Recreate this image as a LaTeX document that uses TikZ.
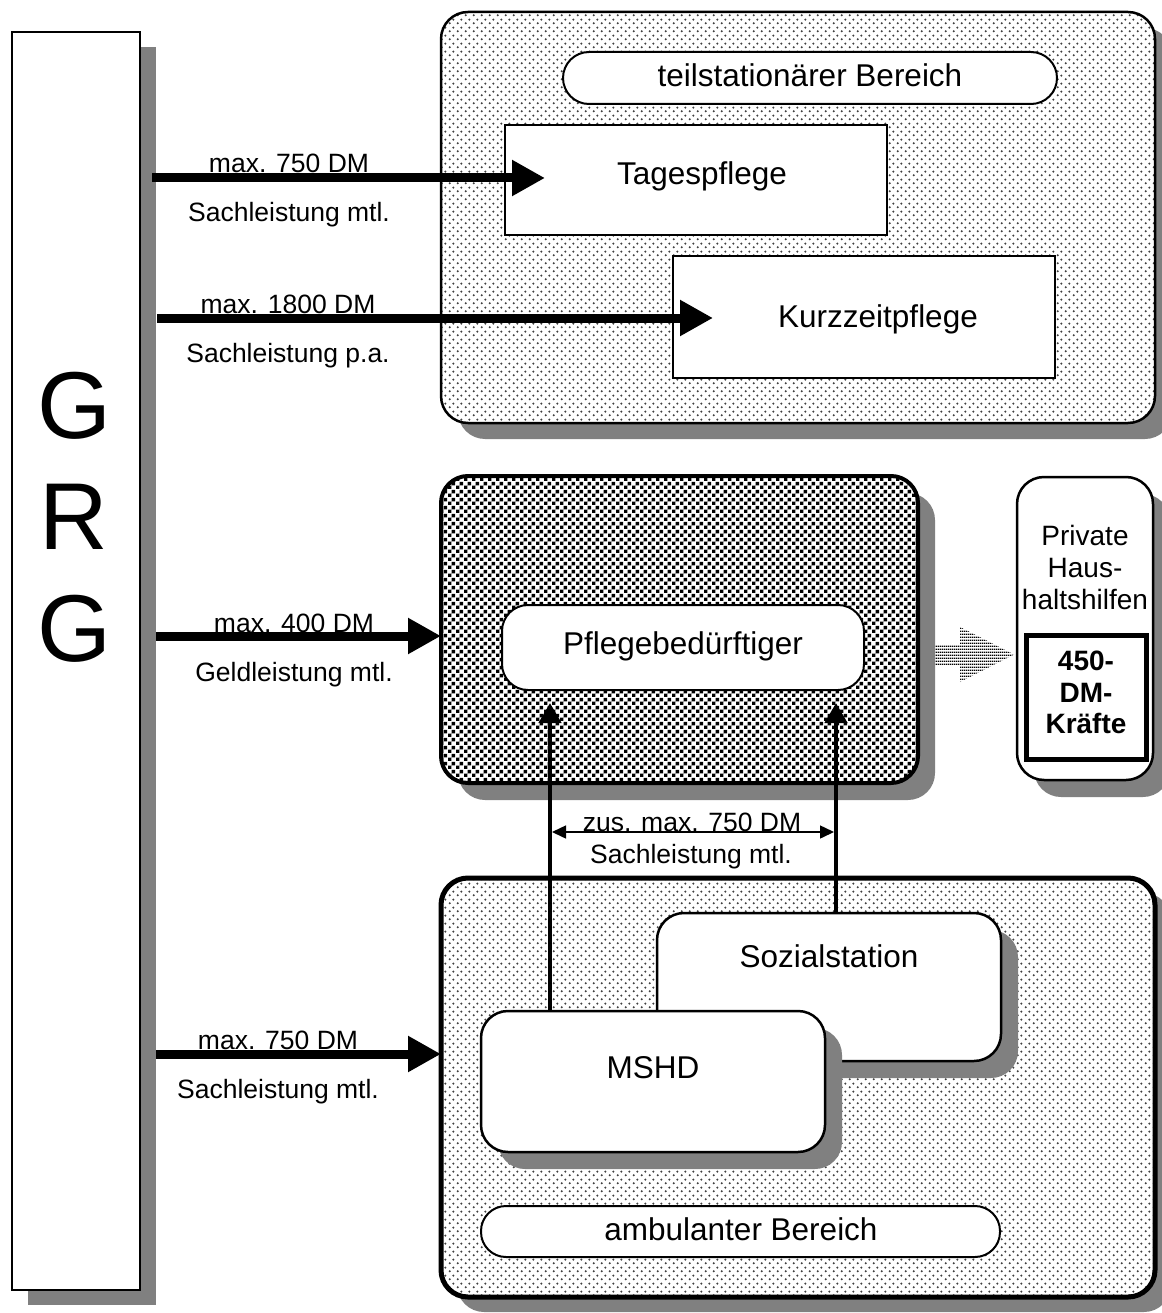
\documentclass[tikz,border=0pt]{standalone}
\usepackage{fontspec}
\setmainfont{Liberation Sans}
\usetikzlibrary{arrows.meta,shadows,patterns,calc}

\definecolor{shadowgray}{gray}{0.5}
\pgfdeclarelayer{shadowlayer}
\pgfsetlayers{shadowlayer,main}

% staggered fine dot screen
\pgfdeclarepatternformonly{finedots}{\pgfpointorigin}{\pgfqpoint{8pt}{8pt}}{\pgfqpoint{8pt}{8pt}}{%
  \pgfpathcircle{\pgfqpoint{2pt}{2pt}}{1.3pt}%
  \pgfpathcircle{\pgfqpoint{6pt}{6pt}}{1.3pt}%
  \pgfusepath{fill}}
% dense square screen
\pgfdeclarepatternformonly{coarsedots}{\pgfpointorigin}{\pgfqpoint{8pt}{8pt}}{\pgfqpoint{8pt}{8pt}}{%
  \pgfpathrectangle{\pgfqpoint{0.1pt}{0.1pt}}{\pgfqpoint{3.8pt}{3.8pt}}%
  \pgfpathrectangle{\pgfqpoint{4.1pt}{4.1pt}}{\pgfqpoint{3.8pt}{3.8pt}}%
  \pgfusepath{fill}}
% horizontal stripes
\pgfdeclarepatternformonly{hstripes}{\pgfpointorigin}{\pgfqpoint{2pt}{3.2pt}}{\pgfqpoint{2pt}{3.2pt}}{%
  \pgfpathrectangle{\pgfpointorigin}{\pgfqpoint{2pt}{1.8pt}}%
  \pgfusepath{fill}}

\tikzset{
  bigfont/.style={font=\fontsize{31.5pt}{36pt}\selectfont},
  labfont/.style={font=\fontsize{26.5pt}{32pt}\selectfont},
  txt/.style={anchor=base, inner sep=0pt},
  shade17/.style={drop shadow={shadow xshift=17pt, shadow yshift=-17pt, fill=shadowgray, opacity=1}},
  shade15/.style={drop shadow={shadow xshift=16pt, shadow yshift=-15pt, fill=shadowgray, opacity=1}},
  box/.style={draw=black, fill=white, inner sep=0pt, outer sep=0pt},
  lightpanel/.style={box, rounded corners=27pt, preaction={fill=white}, pattern=finedots, pattern color=black!75},
  darkpanel/.style={box, line width=4pt, rounded corners=27pt, preaction={fill=white}, pattern=coarsedots, pattern color=black},
  panelshadow/.style={fill=shadowgray, rounded corners=27pt},
  bigarrow/.style={line width=9pt, -{Triangle[length=33pt,width=34pt]}},
  uparrow/.style={line width=4.5pt, -{Triangle[length=20pt,width=22pt]}},
  spanarrow/.style={line width=1.5pt, {Triangle[length=14pt,width=13pt]}-{Triangle[length=14pt,width=13pt]}},
}

\begin{document}
\begin{tikzpicture}[x=1pt, y=-1pt]
\useasboundingbox (0,0) rectangle (1161,1313);

% left bar
\node[box, shade15, line width=2.5pt, minimum width=128, minimum height=1258] (grg) at (76,661) {};
\node[txt, font=\fontsize{95pt}{100pt}\selectfont] (g1) at (74,438) {G};
\node[txt, font=\fontsize{95pt}{100pt}\selectfont] (r1) at (74,549) {R};
\node[txt, font=\fontsize{95pt}{100pt}\selectfont] (g2) at (74,661) {G};

% semi-residential care panel
\node[lightpanel, line width=2.5pt, minimum width=714, minimum height=411] (top) at (798,217.5) {};
\begin{pgfonlayer}{shadowlayer}
  \path[panelshadow] ([shift={(17,16)}]top.north west) rectangle ([shift={(17,16)}]top.south east);
\end{pgfonlayer}
\node[box, line width=2pt, rounded corners=26pt, minimum width=494, minimum height=52] (tpill) at (810,78) {};
\node[txt, bigfont] (tpilltxt) at (810,87) {teilstationärer Bereich};
\node[box, line width=2.5pt, minimum width=382, minimum height=110] (tages) at (696,180) {};
\node[txt, bigfont] (tagestxt) at (702,185) {Tagespflege};
\node[box, line width=2.5pt, minimum width=382, minimum height=122] (kurz) at (864,317) {};
\node[txt, bigfont] (kurztxt) at (878,327) {Kurzzeitpflege};

% person in need of care
\node[darkpanel, minimum width=477, minimum height=307] (mid) at (679.5,629.5) {};
\begin{pgfonlayer}{shadowlayer}
  \path[panelshadow] ([shift={(17,17)}]mid.north west) rectangle ([shift={(17,17)}]mid.south east);
\end{pgfonlayer}
\node[box, line width=2pt, rounded corners=26pt, minimum width=362, minimum height=85] (pfl) at (683,647.5) {};
\node[txt, bigfont] (pfltxt) at (683,654) {Pflegebedürftiger};

% private household help
\node[box, shade17, line width=2.5pt, rounded corners=27pt, minimum width=136, minimum height=303] (priv) at (1085,628.5) {};
\node[txt, font=\fontsize{28pt}{33pt}\selectfont] (privtxt1) at (1085,545) {Private};
\node[txt, font=\fontsize{28pt}{33pt}\selectfont] (privtxt2) at (1085,577) {Haus-};
\node[txt, font=\fontsize{28pt}{33pt}\selectfont] (privtxt3) at (1085,609) {haltshilfen};
\node[box, line width=5pt, minimum width=120, minimum height=124] (dm) at (1086,697) {};
\node[txt, font=\bfseries\fontsize{28pt}{33pt}\selectfont] (dmtxt1) at (1086,670) {450-};
\node[txt, font=\bfseries\fontsize{28pt}{33pt}\selectfont] (dmtxt2) at (1086,702) {DM-};
\node[txt, font=\bfseries\fontsize{28pt}{33pt}\selectfont] (dmtxt3) at (1086,733) {Kräfte};

% striped block arrow towards the household help
\fill[pattern=hstripes, pattern color=black]
  (935,645) -- (960,645) -- (960,627) -- (1014,654.5) -- (960,682) -- (960,665) -- (935,665) -- cycle;

% outpatient panel
\node[lightpanel, line width=5pt, minimum width=714, minimum height=419] (bot) at (798,1087.5) {};
\begin{pgfonlayer}{shadowlayer}
  \path[panelshadow] ([shift={(16,15)}]bot.north west) rectangle ([shift={(16,15)}]bot.south east);
\end{pgfonlayer}
\node[box, shade17, line width=2.5pt, rounded corners=27pt, minimum width=344, minimum height=148] (soz) at (829,987) {};
\node[txt, bigfont] (soztxt) at (829,967) {Sozialstation};
\node[box, shade17, line width=2.5pt, rounded corners=27pt, minimum width=344, minimum height=141] (mshd) at (653,1081.5) {};
\node[txt, bigfont] (mshdtxt) at (653,1078) {MSHD};
\node[box, line width=2pt, rounded corners=25pt, minimum width=519, minimum height=51] (apill) at (740.5,1231.5) {};
\node[txt, bigfont] (apilltxt) at (741,1240) {ambulanter Bereich};

% payments from the left bar
\coordinate (a1) at (152,178);
\coordinate (a2) at (157,318);
\coordinate (a3) at (156,636);
\coordinate (a4) at (156,1054);
\draw[bigarrow] (a1) -- ($(a1 -| tages.west)+(40,0)$);
\draw[bigarrow] (a2) -- ($(a2 -| kurz.west)+(40,0)$);
\draw[bigarrow] (a3) -- (a3 -| mid.west);
\draw[bigarrow] (a4) -- (a4 -| bot.west);

\node[txt, labfont] (l1a) at (289,173) {max. 750 DM};
\node[txt, labfont] (l1b) at (289,222) {Sachleistung mtl.};
\node[txt, labfont] (l2a) at (288,313) {max. 1800 DM};
\node[txt, labfont] (l2b) at (288,362) {Sachleistung p.a.};
\node[txt, labfont] (l3a) at (294,632) {max. 400 DM};
\node[txt, labfont] (l3b) at (294,681) {Geldleistung mtl.};
\node[txt, labfont] (l4a) at (278,1049) {max. 750 DM};
\node[txt, labfont] (l4b) at (278,1098) {Sachleistung mtl.};

% services reaching the person in need of care
\coordinate (vl) at (550,703);
\coordinate (vr) at (836,703);
\draw[uparrow] (vl |- mshd.north) -- (vl);
\draw[uparrow] (vr |- soz.north) -- (vr);
\coordinate (sl) at (552,832);
\coordinate (sr) at (834,832);
\draw[spanarrow] (sl) -- (sr);
\node[txt, labfont] (l5a) at (692,831) {zus. max. 750 DM};
\node[txt, labfont] (l5b) at (691,863) {Sachleistung mtl.};
\end{tikzpicture}
\end{document}
